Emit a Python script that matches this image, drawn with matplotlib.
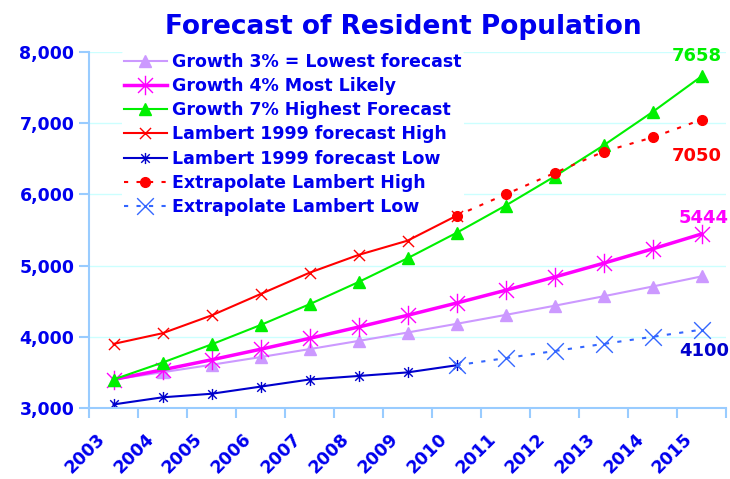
import numpy as np
import matplotlib.pyplot as plt
from matplotlib.path import Path
from matplotlib.transforms import ScaledTranslation

# categories
years = ['2003', '2004', '2005', '2006', '2007', '2008', '2009',
         '2010', '2011', '2012', '2013', '2014', '2015']

# series values
growth3 = [3400, 3502, 3607, 3715, 3827, 3942, 4060, 4182, 4307, 4436, 4569, 4706, 4848]
growth4 = [3400, 3536, 3677, 3825, 3978, 4137, 4302, 4474, 4653, 4839, 5033, 5234, 5444]
growth7 = [3400, 3638, 3893, 4165, 4457, 4769, 5103, 5460, 5842, 6251, 6688, 7157, 7658]
lambert_high = [3900, 4050, 4300, 4600, 4900, 5150, 5350, 5700]
lambert_low = [3050, 3150, 3200, 3300, 3400, 3450, 3500, 3600]
extrap_high = [5700, 6000, 6300, 6600, 6800, 7050]
extrap_low = [3600, 3700, 3800, 3900, 4000, 4100]

TEXT = '#0000EE'
GREEN = '#00F000'

# Excel-style star marker: an X with a vertical bar
star = Path([(-1, -1), (1, 1), (-1, 1), (1, -1), (0, -1.3), (0, 1.3)],
            [Path.MOVETO, Path.LINETO, Path.MOVETO, Path.LINETO, Path.MOVETO, Path.LINETO])
xmark = Path([(-1, -1), (1, 1), (-1, 1), (1, -1)],
             [Path.MOVETO, Path.LINETO, Path.MOVETO, Path.LINETO])

fig = plt.figure(figsize=(7.3, 4.79), dpi=100)
ax = fig.add_axes([89 / 730, 1 - 408 / 479, 637 / 730, 356 / 479])

x = np.arange(len(years))
x_hist = x[:len(lambert_high)]
x_ext = x[len(lambert_high) - 1:]

ax.plot(x, growth3, color='#CC99FF', lw=1.5, marker='^', ms=8,
        label='Growth 3% = Lowest forecast')
ax.plot(x, growth4, color='#FF00FF', lw=2.5, marker=star, ms=14, mew=1,
        label='Growth 4% Most Likely')
ax.plot(x, growth7, color=GREEN, lw=1.5, marker='^', ms=8,
        label='Growth 7% Highest Forecast')
ax.plot(x_hist, lambert_high, color='#FF0000', lw=1.5, marker=xmark, ms=8, mew=1,
        label='Lambert 1999 forecast High')
ax.plot(x_hist, lambert_low, color='#0000CC', lw=1.5, marker=star, ms=8, mew=1,
        label='Lambert 1999 forecast Low')
ax.plot(x_ext, extrap_high, color='#FF0000', lw=1.5, ls=(0, (2, 4)), marker='o', ms=7,
        label='Extrapolate Lambert High')
ax.plot(x_ext, extrap_low, color='#3366FF', lw=1.5, ls=(0, (2, 4)), marker=xmark, ms=12, mew=1,
        label='Extrapolate Lambert Low')

ax.set_xlim(-0.5, len(years) - 0.5)
ax.set_ylim(3000, 8000)
ax.set_yticks([3000, 4000, 5000, 6000, 7000, 8000])
ax.set_yticklabels(['3,000', '4,000', '5,000', '6,000', '7,000', '8,000'])
ax.grid(axis='y', color='#CCFFFF', lw=1)
ax.set_axisbelow(True)

# category axis: ticks between categories, labels at centres
ax.set_xticks(np.arange(len(years) + 1) - 0.5)
ax.set_xticklabels([])
ax.set_xticks(x, minor=True)
ax.set_xticklabels(years, minor=True, rotation=45, ha='right', va='top',
                   rotation_mode='anchor', fontsize=12.5, fontweight='bold', color=TEXT)
ax.tick_params(axis='x', which='minor', length=0, pad=16)
ax.tick_params(axis='x', which='major', length=7, color='#99CCFF', width=1.5)
ax.tick_params(axis='y', length=7, color='#99CCFF', width=1.5, labelsize=12.5,
               labelcolor=TEXT)
for lbl in ax.get_yticklabels():
    lbl.set_fontweight('bold')
shift = ScaledTranslation(-18 / 100, 0, fig.dpi_scale_trans)
for lbl in ax.get_xticklabels(minor=True):
    lbl.set_transform(lbl.get_transform() + shift)

for side in ['top', 'right']:
    ax.spines[side].set_visible(False)
for side in ['left', 'bottom']:
    ax.spines[side].set_color('#99CCFF')
    ax.spines[side].set_linewidth(1.5)

# end labels
ax.text(11.9, 7658 + 160, '7658', color=GREEN, fontsize=13, fontweight='bold',
        ha='center', va='bottom')
ax.text(11.9, 7050 - 380, '7050', color='#FF0000', fontsize=13, fontweight='bold',
        ha='center', va='top')
ax.text(12.05, 5444 + 100, '5444', color='#FF00FF', fontsize=13, fontweight='bold',
        ha='center', va='bottom')
ax.text(12.05, 4100 - 170, '4100', color='#0000CC', fontsize=13, fontweight='bold',
        ha='center', va='top')

leg = ax.legend(loc='upper left', bbox_to_anchor=(122 / 730, 1 - 51 / 479),
                bbox_transform=fig.transFigure, frameon=True, framealpha=1,
                edgecolor='none', facecolor='white', fontsize=12.5,
                handlelength=2.5, handletextpad=0.3, labelspacing=0.36,
                borderpad=0.1, borderaxespad=0)
leg.set_zorder(1.5)  # hides gridlines but stays under the data
for t in leg.get_texts():
    t.set_color(TEXT)
    t.set_fontweight('bold')

fig.text(0.553, 1 - 27 / 479, 'Forecast of Resident Population', ha='center', va='center',
         fontsize=19, fontweight='bold', color=TEXT)

fig.savefig('out.png', dpi=100)
